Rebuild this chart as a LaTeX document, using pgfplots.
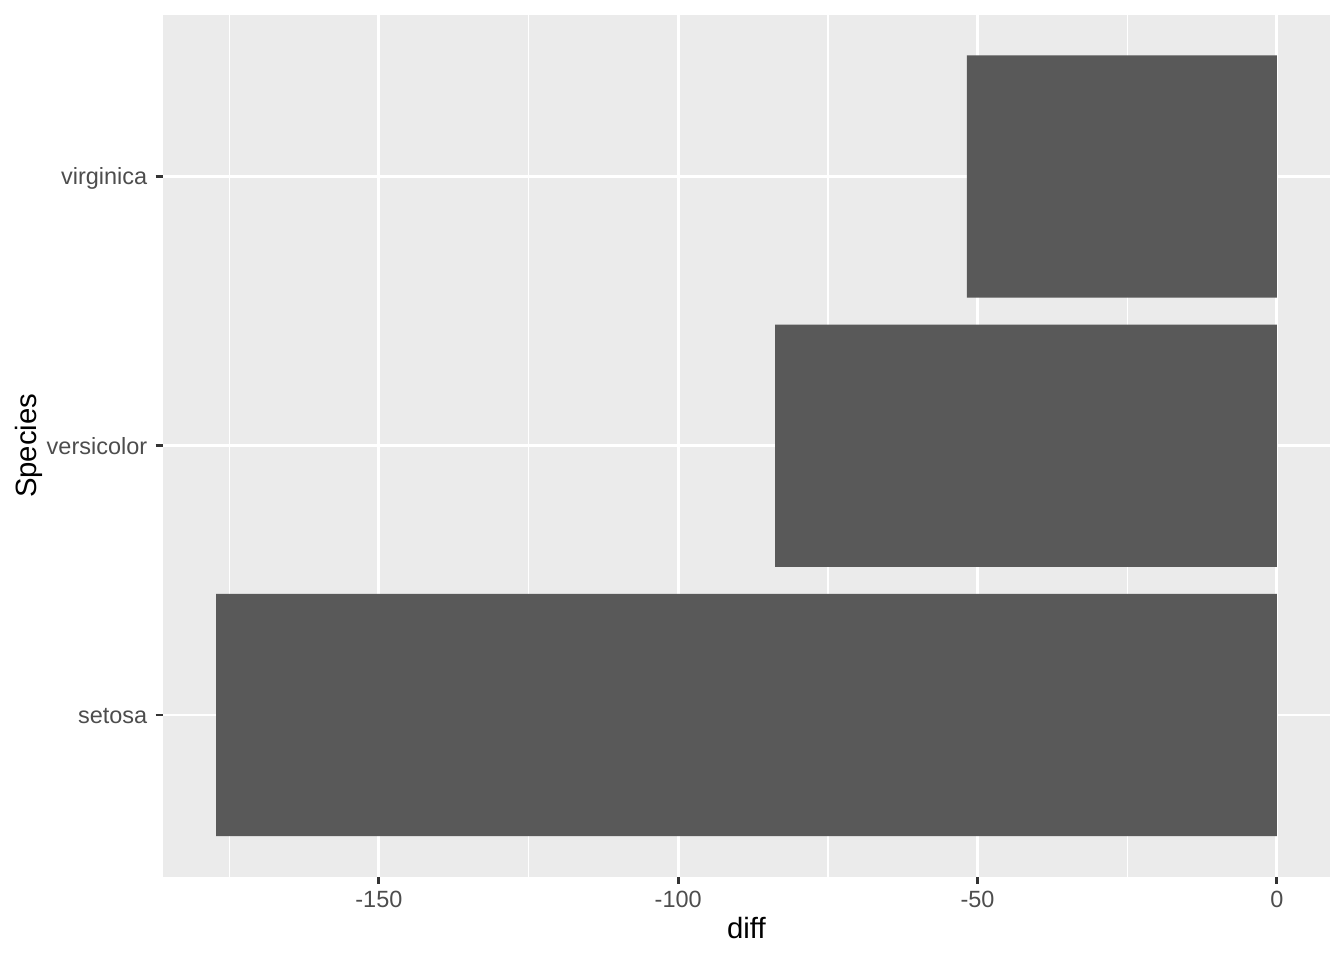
\documentclass[border=0pt]{standalone}
\usepackage{fontspec}
\setmainfont{Liberation Sans}
\usepackage{pgfplots}
\pgfplotsset{compat=1.18}
\definecolor{panelbg}{HTML}{EBEBEB}
\definecolor{barfill}{HTML}{595959}
\definecolor{ticklab}{HTML}{4D4D4D}
\definecolor{tickcol}{HTML}{333333}
\begin{document}
\begin{tikzpicture}
\useasboundingbox (0,0) rectangle (504pt,360pt);
\begin{axis}[
  at={(61.125pt,31.3pt)}, anchor=south west,
  scale only axis,
  width=437.6pt, height=323.1pt,
  xmin=-186.06, xmax=8.86,
  ymin=0.4, ymax=3.6,
  axis background/.style={fill=panelbg},
  axis line style={draw=none},
  xtick={-150,-100,-50,0},
  xticklabels={-150,-100,-50,0},
  minor xtick={-175,-125,-75,-25},
  ytick={1,2,3},
  yticklabels={setosa,versicolor,virginica},
  xmajorgrids, xminorgrids, ymajorgrids,
  major grid style={white, line width=1.07pt},
  minor grid style={white, line width=0.53pt},
  tick align=outside,
  major tick length=2.75pt,
  minor tick length=0pt,
  tick style={tickcol, line width=1.07pt},
  xtick pos=bottom, ytick pos=left,
  ticklabel style={font=\fontsize{8.8}{10}\selectfont, text=ticklab, inner sep=0pt},
  xticklabel style={anchor=base, yshift=-8.95pt},
  yticklabel style={anchor=base east, xshift=-2.99pt, yshift=-3.1pt},
  xlabel={diff},
  ylabel={Species},
  label style={font=\fontsize{11}{13}\selectfont, text=black, inner sep=0pt},
  xlabel style={at={(axis description cs:0.5,-0.0724)}, anchor=base},
  ylabel style={at={(axis description cs:-0.1088,0.5)}, anchor=base, rotate=0},
]
\addplot[xbar, bar width=0.9, fill=barfill, draw=none] coordinates {
  (-177.2,1)
  (-83.8,2)
  (-51.8,3)
};
\end{axis}
\end{tikzpicture}
\end{document}
